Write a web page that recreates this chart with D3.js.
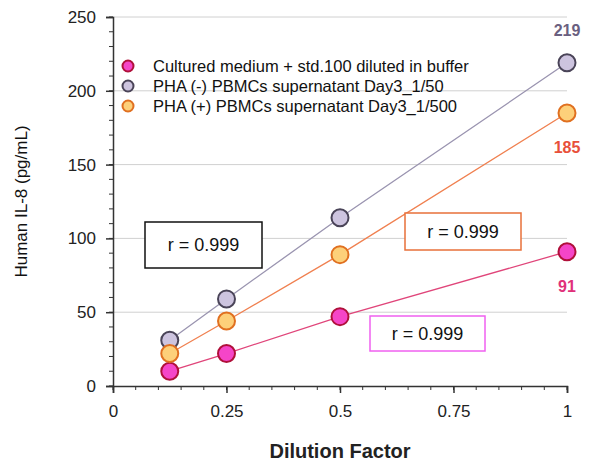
<!DOCTYPE html>
<html><head><meta charset="utf-8">
<script src="https://cdn.jsdelivr.net/npm/d3@7"></script>
<style>body{margin:0;background:#fff}text{font-family:"Liberation Sans",Arial,sans-serif}</style>
</head><body><div id="canvas"></div>
<script>
const dilution = [0.125, 0.25, 0.5, 1];
const cultured = [10, 22, 47, 91];
const phaNeg = [31, 59, 114, 219];
const phaPos = [22, 44, 89, 185];
const seriesNames = ["Cultured medium + std.100 diluted in buffer", "PHA (-) PBMCs supernatant Day3_1/50", "PHA (+) PBMCs supernatant Day3_1/500"];
const xTicks = [0, 0.25, 0.5, 0.75, 1];
const yTicks = [0, 50, 100, 150, 200, 250];

const width = 600, height = 466,
	margins = {"top": 17, "right": 33, "bottom": 80, "left": 113};
const w = width - margins.left - margins.right, h = height - margins.top - margins.bottom;

const svg = d3.select("#canvas").append("svg").attr("width", width).attr("height", height);
const chart = svg.append("g").attr("transform", `translate(${margins.left}, ${margins.top})`);

const xScale = d3.scaleLinear().domain([0, 1]).range([0, w]);
const yScale = d3.scaleLinear().domain([0, 250]).range([h, 0]);

// gridlines
chart.selectAll(".grid").data(yTicks.slice(1)).join("line")
	.attr("x1", 0).attr("x2", w)
	.attr("y1", d => yScale(d)).attr("y2", d => yScale(d))
	.attr("stroke", "#d0d0d0");

// minor ticks
chart.selectAll(".mx").data(d3.range(0, 1.0001, 0.05)).join("line")
	.attr("x1", d => xScale(d)).attr("x2", d => xScale(d))
	.attr("y1", h).attr("y2", h + 4).attr("stroke", "#333");
chart.selectAll(".my").data(d3.range(0, 251, 10)).join("line")
	.attr("x1", -4).attr("x2", 0)
	.attr("y1", d => yScale(d)).attr("y2", d => yScale(d)).attr("stroke", "#333");

const xAxis = chart.append("g").attr("transform", `translate(0, ${h})`)
	.call(d3.axisBottom(xScale).tickValues(xTicks).tickFormat(d3.format("")).tickSize(7).tickPadding(12));
const yAxis = chart.append("g")
	.call(d3.axisLeft(yScale).tickValues(yTicks).tickSize(7).tickPadding(10));
[xAxis, yAxis].forEach(a => {
	a.selectAll("text").attr("font-size", 17).attr("fill", "#222");
	a.selectAll("path,line").attr("stroke", "#333").attr("stroke-width", 1.5);
});

const series = [
	{vals: cultured, line: "#e0457a", fill: "#f545c8", stroke: "#b0103a"},
	{vals: phaNeg, line: "#9a94b0", fill: "#cdc4df", stroke: "#4a4458"},
	{vals: phaPos, line: "#f08050", fill: "#fdd07a", stroke: "#e07020"}
];

series.forEach(s => {
	chart.append("path").datum(dilution)
		.attr("d", d3.line().x(d => xScale(d)).y((d, i) => yScale(s.vals[i])))
		.attr("fill", "none").attr("stroke", s.line).attr("stroke-width", 1.3);
});
series.forEach(s => {
	chart.selectAll(null).data(dilution).join("circle")
		.attr("cx", d => xScale(d)).attr("cy", (d, i) => yScale(s.vals[i])).attr("r", 8.5)
		.attr("fill", s.fill).attr("stroke", s.stroke).attr("stroke-width", 2);
});

// end labels
const endLabels = [
	{v: phaNeg[3], y: 219, dy: -27, c: "#6a6080"},
	{v: phaPos[3], y: 185, dy: 40, c: "#e8503a"},
	{v: cultured[3], y: 91, dy: 40, c: "#e0307a"}
];
endLabels.forEach(l => chart.append("text")
	.attr("x", xScale(1)).attr("y", yScale(l.y) + l.dy).attr("text-anchor", "middle")
	.attr("font-size", 16).attr("font-weight", "bold").attr("fill", l.c).text(l.v));

// legend
seriesNames.forEach((n, i) => {
	const ly = 66 + i * 20 - margins.top;
	chart.append("circle").attr("cx", 128 - margins.left).attr("cy", ly).attr("r", 5.5)
		.attr("fill", series[i].fill).attr("stroke", series[i].stroke).attr("stroke-width", 2);
	chart.append("text").attr("x", 153 - margins.left).attr("y", ly + 6)
		.attr("font-size", 16.5).attr("fill", "#111").text(n);
});

// r boxes
const boxes = [
	{x: 145, y: 222, w: 117, h: 46, c: "#111"},
	{x: 405, y: 213, w: 116, h: 37, c: "#e8703a"},
	{x: 370, y: 316, w: 115, h: 35, c: "#f060f0"}
];
boxes.forEach(b => {
	svg.append("rect").attr("x", b.x).attr("y", b.y).attr("width", b.w).attr("height", b.h)
		.attr("fill", "#fff").attr("stroke", b.c).attr("stroke-width", 1.5);
	svg.append("text").attr("x", b.x + b.w / 2).attr("y", b.y + b.h / 2 + 6)
		.attr("text-anchor", "middle").attr("font-size", 18).attr("fill", "#111").text("r = 0.999");
});

svg.append("text").attr("transform", `translate(27, ${margins.top + h / 2}) rotate(-90)`)
	.attr("text-anchor", "middle").attr("font-size", 17).attr("fill", "#111").text("Human IL-8 (pg/mL)");
svg.append("text").attr("x", margins.left + w / 2).attr("y", 458).attr("text-anchor", "middle")
	.attr("font-size", 20).attr("font-weight", "bold").attr("fill", "#222").text("Dilution Factor");
</script></body></html>
